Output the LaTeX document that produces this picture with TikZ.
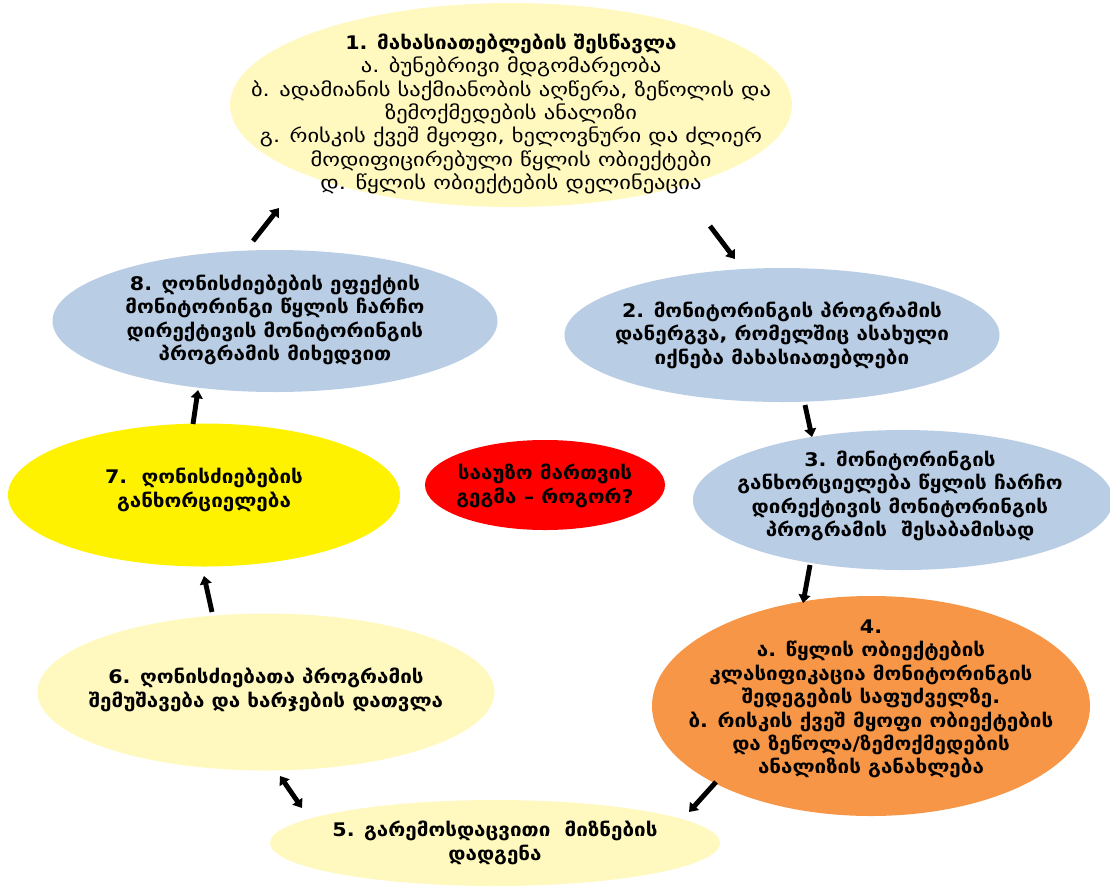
\documentclass[tikz,border=0pt]{standalone}
\usepackage{fontspec}
\setmainfont{DejaVu Sans}[FakeStretch=1.1]
\newfontfamily\widebody{DejaVu Sans}[FakeStretch=1.2]
\usepackage{tikz}
\usetikzlibrary{arrows.meta, shapes.geometric}

\definecolor{paleyellow}{HTML}{FFF9C0}
\definecolor{steelblue}{HTML}{B9CDE5}
\definecolor{orangefill}{HTML}{F79646}

\begin{document}
\begin{tikzpicture}[x=0.03cm, y=-0.03cm,
  bubble/.style={ellipse, inner sep=0pt},
  txt/.style={align=center, font=\fontsize{16}{20}\selectfont\bfseries},
  flow/.style={line width=4.2pt, -{Triangle[length=7pt,width=10pt]}}]
\useasboundingbox (0,0) rectangle (1110,888);

% Ellipses of the cycle
\node[bubble, fill=paleyellow, minimum width=16.86cm, minimum height=6.12cm] (study) at (511,105) {};
\node[bubble, fill=steelblue, minimum width=13.05cm, minimum height=4.02cm] (launch) at (782,335) {};
\node[bubble, fill=steelblue, minimum width=12.6cm, minimum height=4.2cm] (monitor) at (903,500) {};
\node[bubble, fill=orangefill, minimum width=13.14cm, minimum height=6.6cm] (classify) at (871,706) {};
\node[bubble, fill=paleyellow, minimum width=13.5cm, minimum height=2.58cm] (goals) at (495,843) {};
\node[bubble, fill=paleyellow, minimum width=13.71cm, minimum height=4.71cm] (programme) at (266,692) {};
\node[bubble, fill=yellow, minimum width=11.76cm, minimum height=4.29cm] (measures) at (204,495) {};
\node[bubble, fill=steelblue, minimum width=13.35cm, minimum height=4.26cm] (effect) at (275,321) {};
\node[bubble, fill=red, minimum width=7.2cm, minimum height=2.7cm] (plan) at (545,485) {};

% Texts
\node[txt] (study-t) at (511,114) {1. მახასიათებლების შესწავლა\\
  \widebody\mdseries ა. ბუნებრივი მდგომარეობა\\
  \widebody\mdseries ბ. ადამიანის საქმიანობის აღწერა, ზეწოლის და\\
  \widebody\mdseries ზემოქმედების ანალიზი\\
  \widebody\mdseries გ. რისკის ქვეშ მყოფი, ხელოვნური და ძლიერ\\
  \widebody\mdseries მოდიფიცირებული წყლის ობიექტები\\
  \widebody\mdseries დ. წყლის ობიექტების დელინეაცია};
\node[txt] (launch-t) at (782,335) {2. მონიტორინგის პროგრამის\\
  დანერგვა, რომელშიც ასახული\\ იქნება მახასიათებლები};
\node[txt] (monitor-t) at (900,496) {3. მონიტორინგის\\
  განხორციელება წყლის ჩარჩო\\ დირექტივის მონიტორინგის\\
  პროგრამის~~შესაბამისად};
\node[txt] (classify-t) at (871,699) {4.\\ ა. წყლის ობიექტების\\
  კლასიფიკაცია მონიტორინგის\\ შედეგების საფუძველზე.\\
  ბ. რისკის ქვეშ მყოფი ობიექტების\\ და ზეწოლა/ზემოქმედების\\
  ანალიზის განახლება};
\node[txt] (goals-t) at (495,843) {5. გარემოსდაცვითი~~მიზნების\\ დადგენა};
\node[txt] (programme-t) at (266,690) {6. ღონისძიებათა პროგრამის\\
  შემუშავება და ხარჯების დათვლა};
\node[txt] (measures-t) at (204,490) {7.~~ღონისძიებების\\ განხორციელება};
\node[txt] (effect-t) at (275,320) {8. ღონისძიებების ეფექტის\\
  მონიტორინგი წყლის ჩარჩო\\ დირექტივის მონიტორინგის\\
  პროგრამის მიხედვით};
\node[txt] (plan-t) at (545,486) {სააუზო მართვის\\ გეგმა – როგორ?};

% Arrow ends in the gaps
\coordinate (s1) at (253,241); \coordinate (e1) at (279,208);
\coordinate (s2) at (710,226); \coordinate (e2) at (735,259);
\coordinate (s3) at (805,405); \coordinate (e3) at (812,437);
\coordinate (s4) at (810,565); \coordinate (e4) at (803,603);
\coordinate (s5) at (716,782); \coordinate (e5) at (689,812);
\coordinate (s6) at (280,776); \coordinate (e6) at (302,808);
\coordinate (s7) at (212,612); \coordinate (e7) at (204,576);
\coordinate (s8) at (193,424); \coordinate (e8) at (198,390);

% Arrows
\draw[flow] (s1) -- (e1);
\draw[flow] (s2) -- (e2);
\draw[flow] (s3) -- (e3);
\draw[flow] (s4) -- (e4);
\draw[flow] (s5) -- (e5);
\draw[flow, {Triangle[length=7pt,width=10pt]}-{Triangle[length=7pt,width=10pt]}] (s6) -- (e6);
\draw[flow] (s7) -- (e7);
\draw[flow] (s8) -- (e8);
\end{tikzpicture}
\end{document}
